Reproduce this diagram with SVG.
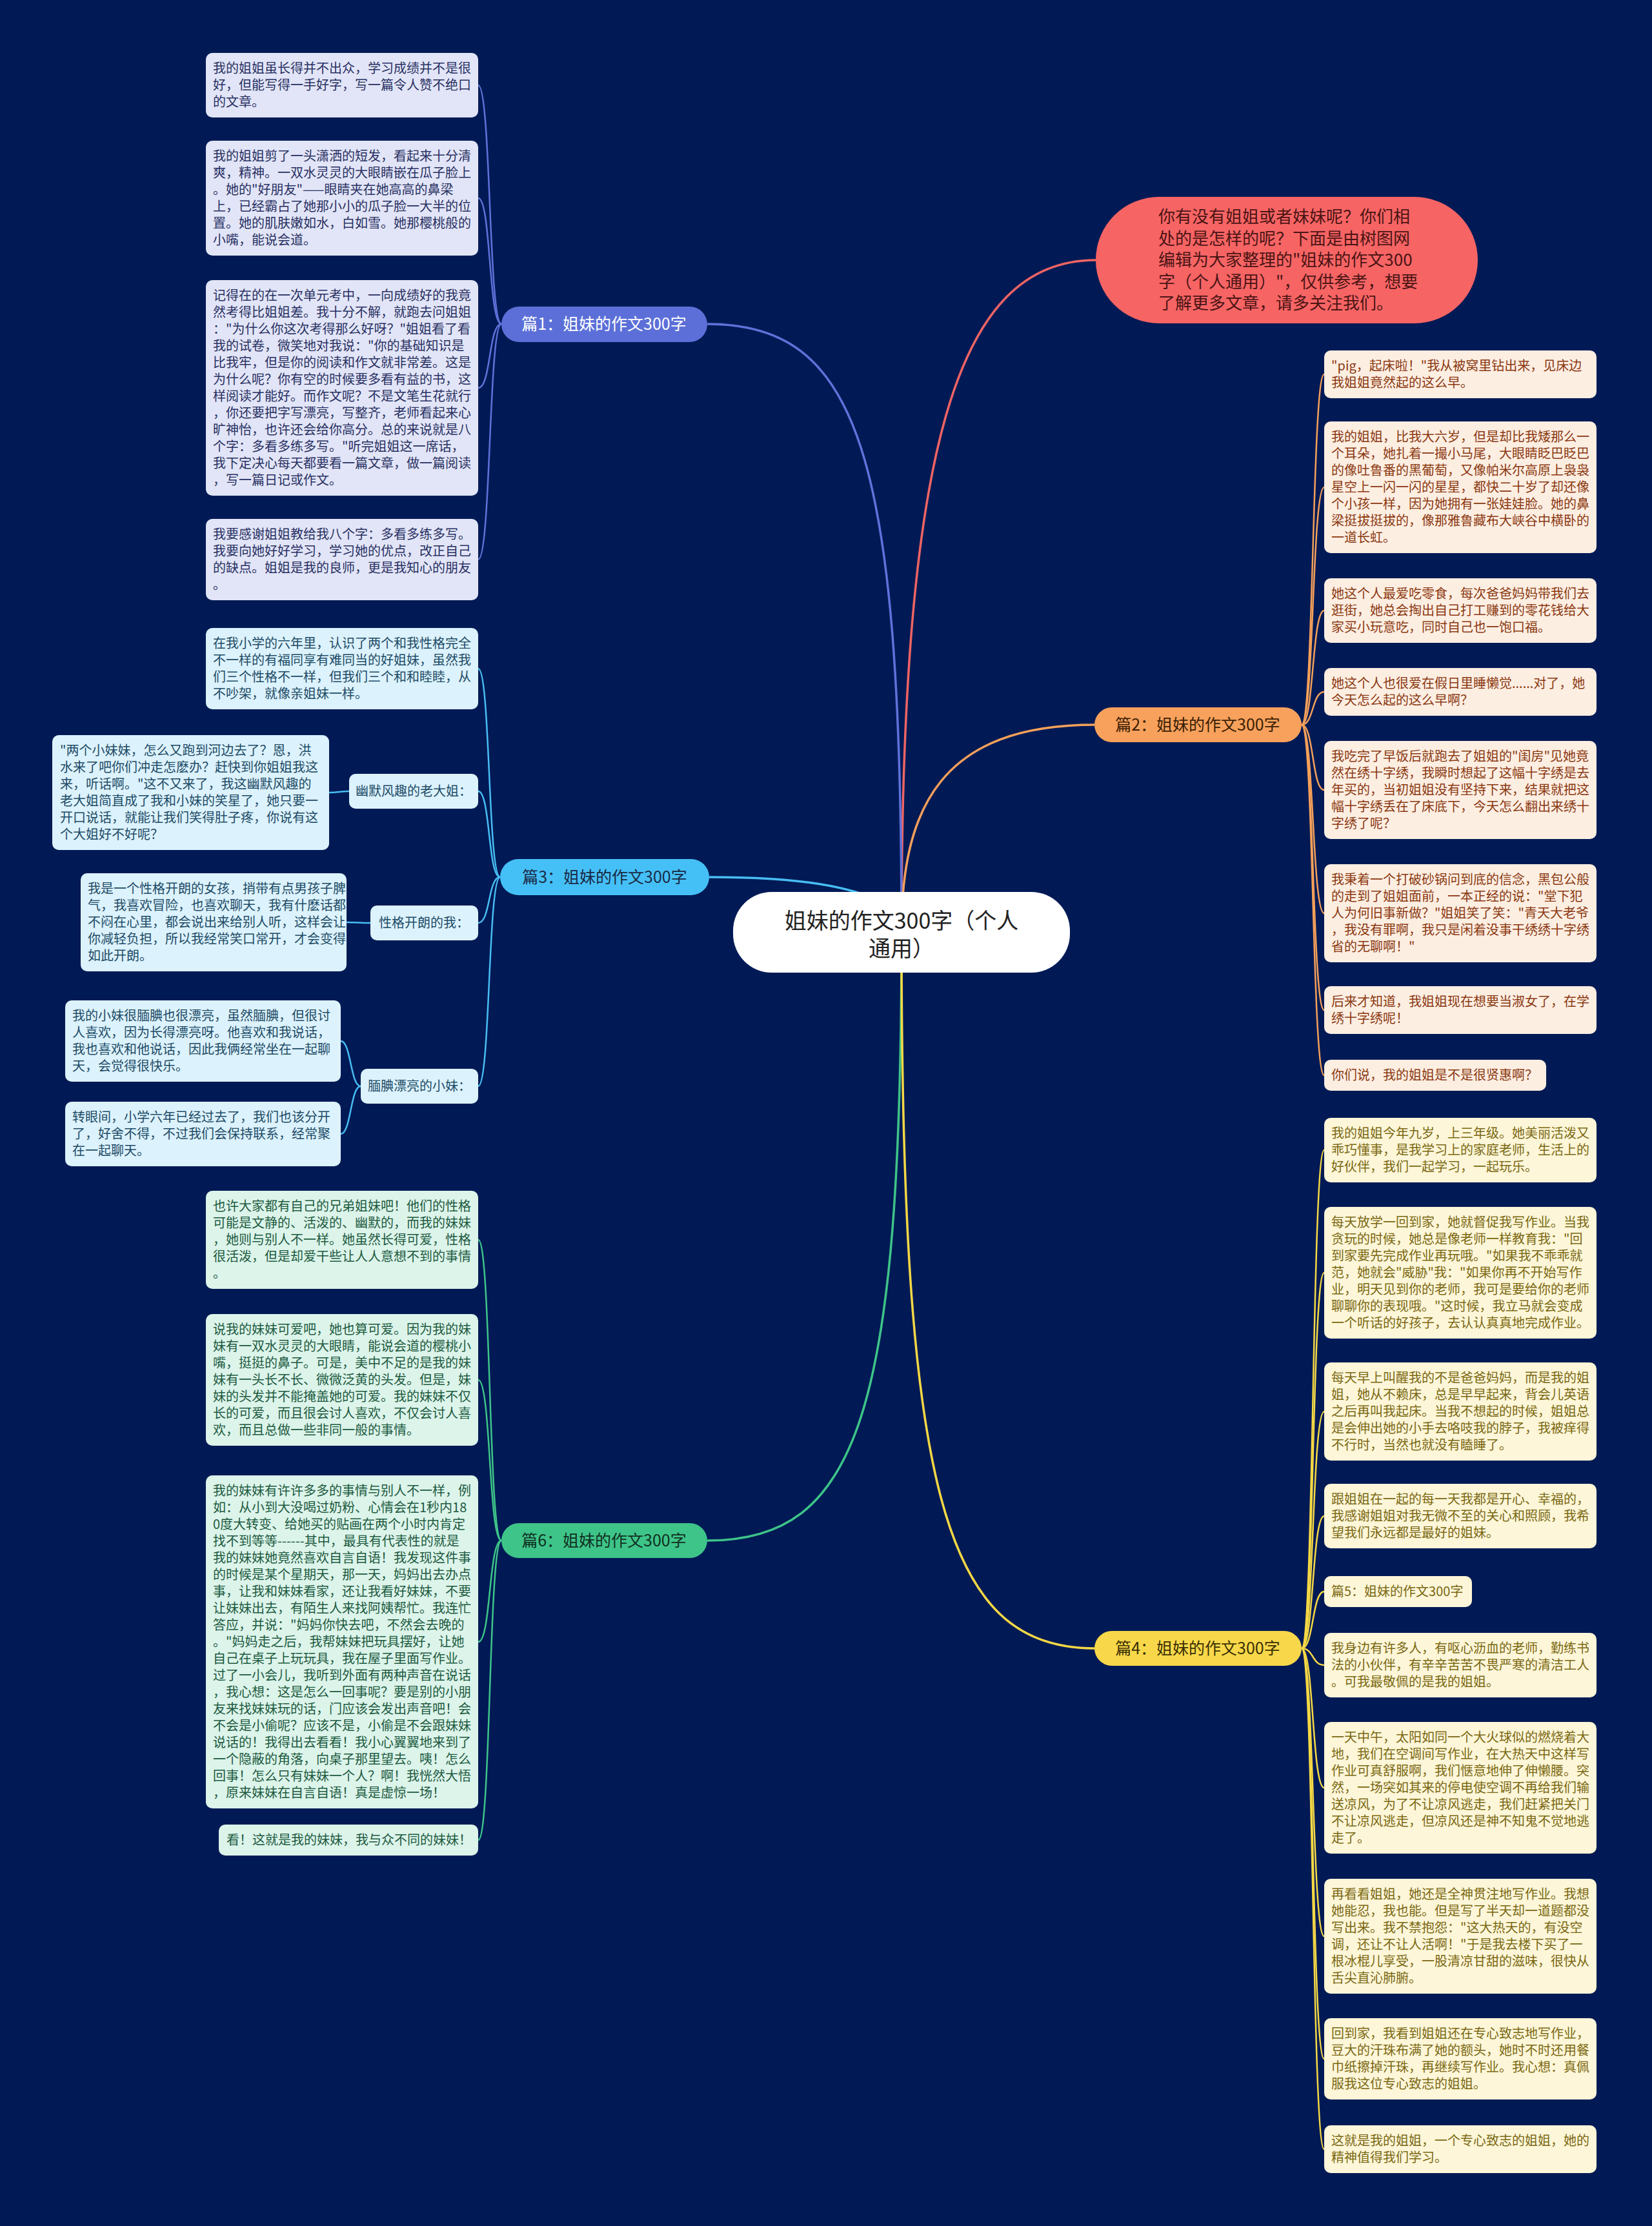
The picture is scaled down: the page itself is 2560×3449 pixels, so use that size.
<svg xmlns="http://www.w3.org/2000/svg" width="2560" height="3449" viewBox="0 0 2560 3449">
<style>
text{font-family:"Noto Sans CJK SC","Noto Sans",sans-serif}
.lf{font-size:20px}
.c1 rect{fill:#e2e5f7}.c1 text{fill:#283062}
.c3 rect{fill:#dcf2fc}.c3 text{fill:#1d4b66}
.c6 rect{fill:#dcf4ea}.c6 text{fill:#1c5a3f}
.c2 rect{fill:#fdeee2}.c2 text{fill:#8a3810}
.c4 rect{fill:#fdf6d8}.c4 text{fill:#7a6812}
.lab{font-size:25px;text-anchor:middle}
.ln{fill:none;stroke-width:3.5}
.sl{fill:none;stroke-width:2.5}
</style>
<rect width="2560" height="3449" fill="#011a55"/>

<g id="connectors">
<path class="ln" stroke="#f06464" d="M1698 403 C1480 403 1397 700 1397 1444"/>
<path class="ln" stroke="#5f72da" d="M1096 502 C1330 502 1397 700 1397 1444"/>
<path class="ln" stroke="#48bdf3" d="M1099 1359 C1300 1359 1397 1390 1397 1444"/>
<path class="ln" stroke="#3ec489" d="M1096 2387 C1330 2387 1397 2190 1397 1444"/>
<path class="ln" stroke="#f5a05a" d="M1696 1123 C1460 1123 1397 1250 1397 1444"/>
<path class="ln" stroke="#f5d845" d="M1696 2554 C1460 2554 1397 2300 1397 1444"/>
<g stroke="#5f72da">
<path class="sl" d="M777 502 C757 502 761 132 741 132"/>
<path class="sl" d="M777 502 C757 502 761 307 741 307"/>
<path class="sl" d="M777 502 C757 502 761 601 741 601"/>
<path class="sl" d="M777 502 C757 502 761 867 741 867"/>
</g>
<g stroke="#48bdf3">
<path class="sl" d="M775 1359 C756 1359 760 1036 741 1036"/>
<path class="sl" d="M775 1359 C756 1359 760 1226 741 1226"/>
<path class="sl" d="M775 1359 C756 1359 760 1430 741 1430"/>
<path class="sl" d="M775 1359 C756 1359 760 1683 741 1683"/>
<path class="sl" d="M541 1226 C526 1226 525 1228 510 1228"/>
<path class="sl" d="M574 1430 C556 1430 555 1429 537 1429"/>
<path class="sl" d="M559 1683 C543 1683 544 1613 528 1613"/>
<path class="sl" d="M559 1683 C543 1683 544 1757 528 1757"/>
</g>
<g stroke="#3ec489">
<path class="sl" d="M777 2387 C757 2387 761 1921 741 1921"/>
<path class="sl" d="M777 2387 C757 2387 761 2138 741 2138"/>
<path class="sl" d="M777 2387 C757 2387 761 2544 741 2544"/>
<path class="sl" d="M777 2387 C757 2387 761 2851 741 2851"/>
</g>
<g stroke="#f5a05a">
<path class="sl" d="M2017 1123 C2036 1123 2033 580 2052 580"/>
<path class="sl" d="M2017 1123 C2036 1123 2033 755 2052 755"/>
<path class="sl" d="M2017 1123 C2036 1123 2033 946 2052 946"/>
<path class="sl" d="M2017 1123 C2036 1123 2033 1072 2052 1072"/>
<path class="sl" d="M2017 1123 C2036 1123 2033 1224 2052 1224"/>
<path class="sl" d="M2017 1123 C2036 1123 2033 1415 2052 1415"/>
<path class="sl" d="M2017 1123 C2036 1123 2033 1565 2052 1565"/>
<path class="sl" d="M2017 1123 C2036 1123 2033 1666 2052 1666"/>
</g>
<g stroke="#f5d845">
<path class="sl" d="M2017 2554 C2036 2554 2033 1782 2052 1782"/>
<path class="sl" d="M2017 2554 C2036 2554 2033 1972 2052 1972"/>
<path class="sl" d="M2017 2554 C2036 2554 2033 2187 2052 2187"/>
<path class="sl" d="M2017 2554 C2036 2554 2033 2349 2052 2349"/>
<path class="sl" d="M2017 2554 C2036 2554 2033 2466 2052 2466"/>
<path class="sl" d="M2017 2554 C2036 2554 2033 2580 2052 2580"/>
<path class="sl" d="M2017 2554 C2036 2554 2033 2770 2052 2770"/>
<path class="sl" d="M2017 2554 C2036 2554 2033 3000 2052 3000"/>
<path class="sl" d="M2017 2554 C2036 2554 2033 3190 2052 3190"/>
<path class="sl" d="M2017 2554 C2036 2554 2033 3330 2052 3330"/>
</g>
</g>

<g id="root">
<rect x="1136" y="1382" width="522" height="125" rx="60" fill="#ffffff"/>
<text x="1397" y="1439" font-size="34" text-anchor="middle" fill="#222">姐妹的作文300字（个人</text>
<text x="1397" y="1482" font-size="34" text-anchor="middle" fill="#222">通用）</text>
</g>

<g id="intro">
<rect x="1698" y="305" width="592" height="196" rx="98" fill="#f76464"/>
<text font-size="26" fill="#4a1414"><tspan x="1795" y="345">你有没有姐姐或者妹妹呢？你们相</tspan><tspan x="1795" dy="33.5">处的是怎样的呢？下面是由树图网</tspan><tspan x="1795" dy="33.5">编辑为大家整理的"姐妹的作文300</tspan><tspan x="1795" dy="33.5">字（个人通用）"，仅供参考，想要</tspan><tspan x="1795" dy="33.5">了解更多文章，请多关注我们。</tspan></text>
</g>

<g id="b1">
<rect x="777" y="475" width="319" height="55" rx="27.5" fill="#5c6fd8"/>
<text class="lab" x="936" y="511" fill="#ffffff">篇1：姐妹的作文300字</text>
</g>
<g id="b3">
<rect x="775" y="1331" width="324" height="56" rx="28" fill="#45c0f7"/>
<text class="lab" x="937" y="1368" fill="#1a2a44">篇3：姐妹的作文300字</text>
</g>
<g id="b6">
<rect x="777" y="2360" width="319" height="54" rx="27" fill="#3ec489"/>
<text class="lab" x="936" y="2396" fill="#10301f">篇6：姐妹的作文300字</text>
</g>
<g id="b2">
<rect x="1696" y="1096" width="321" height="54" rx="27" fill="#f7a15c"/>
<text class="lab" x="1856" y="1132" fill="#3a1e05">篇2：姐妹的作文300字</text>
</g>
<g id="b4">
<rect x="1696" y="2527" width="321" height="54" rx="27" fill="#f8d84a"/>
<text class="lab" x="1856" y="2563" fill="#3a3005">篇4：姐妹的作文300字</text>
</g>

<g class="c1 lf">
<g id="n1a"><rect x="319" y="82" width="422" height="100" rx="10"/><text><tspan x="330" y="113">我的姐姐虽长得并不出众，学习成绩并不是很</tspan><tspan x="330" dy="26">好，但能写得一手好字，写一篇令人赞不绝口</tspan><tspan x="330" dy="26">的文章。</tspan></text></g>
<g id="n1b"><rect x="319" y="218" width="422" height="178" rx="10"/><text><tspan x="330" y="249">我的姐姐剪了一头潇洒的短发，看起来十分清</tspan><tspan x="330" dy="26">爽，精神。一双水灵灵的大眼睛嵌在瓜子脸上</tspan><tspan x="330" dy="26">。她的"好朋友"——眼睛夹在她高高的鼻梁</tspan><tspan x="330" dy="26">上，已经霸占了她那小小的瓜子脸一大半的位</tspan><tspan x="330" dy="26">置。她的肌肤嫩如水，白如雪。她那樱桃般的</tspan><tspan x="330" dy="26">小嘴，能说会道。</tspan></text></g>
<g id="n1c"><rect x="319" y="434" width="422" height="334" rx="10"/><text><tspan x="330" y="465">记得在的在一次单元考中，一向成绩好的我竟</tspan><tspan x="330" dy="26">然考得比姐姐差。我十分不解，就跑去问姐姐</tspan><tspan x="330" dy="26">："为什么你这次考得那么好呀？"姐姐看了看</tspan><tspan x="330" dy="26">我的试卷，微笑地对我说："你的基础知识是</tspan><tspan x="330" dy="26">比我牢，但是你的阅读和作文就非常差。这是</tspan><tspan x="330" dy="26">为什么呢？你有空的时候要多看有益的书，这</tspan><tspan x="330" dy="26">样阅读才能好。而作文呢？不是文笔生花就行</tspan><tspan x="330" dy="26">，你还要把字写漂亮，写整齐，老师看起来心</tspan><tspan x="330" dy="26">旷神怡，也许还会给你高分。总的来说就是八</tspan><tspan x="330" dy="26">个字：多看多练多写。"听完姐姐这一席话，</tspan><tspan x="330" dy="26">我下定决心每天都要看一篇文章，做一篇阅读</tspan><tspan x="330" dy="26">，写一篇日记或作文。</tspan></text></g>
<g id="n1d"><rect x="319" y="804" width="422" height="126" rx="10"/><text><tspan x="330" y="835">我要感谢姐姐教给我八个字：多看多练多写。</tspan><tspan x="330" dy="26">我要向她好好学习，学习她的优点，改正自己</tspan><tspan x="330" dy="26">的缺点。姐姐是我的良师，更是我知心的朋友</tspan><tspan x="330" dy="26">。</tspan></text></g>
</g>

<g class="c3 lf">
<g id="n3a"><rect x="319" y="973" width="422" height="126" rx="10"/><text><tspan x="330" y="1004">在我小学的六年里，认识了两个和我性格完全</tspan><tspan x="330" dy="26">不一样的有福同享有难同当的好姐妹，虽然我</tspan><tspan x="330" dy="26">们三个性格不一样，但我们三个和和睦睦，从</tspan><tspan x="330" dy="26">不吵架，就像亲姐妹一样。</tspan></text></g>
<g id="n3b"><rect x="541" y="1199" width="200" height="54" rx="10"/><text x="641" y="1233" text-anchor="middle">幽默风趣的老大姐：</text></g>
<g id="n3b1"><rect x="81" y="1139" width="429" height="178" rx="10"/><text><tspan x="93" y="1170">"两个小妹妹，怎么又跑到河边去了？恩，洪</tspan><tspan x="93" dy="26">水来了吧你们冲走怎麽办？赶快到你姐姐我这</tspan><tspan x="93" dy="26">来，听话啊。"这不又来了，我这幽默风趣的</tspan><tspan x="93" dy="26">老大姐简直成了我和小妹的笑星了，她只要一</tspan><tspan x="93" dy="26">开口说话，就能让我们笑得肚子疼，你说有这</tspan><tspan x="93" dy="26">个大姐好不好呢？</tspan></text></g>
<g id="n3c"><rect x="574" y="1403" width="167" height="54" rx="10"/><text x="657" y="1437" text-anchor="middle">性格开朗的我：</text></g>
<g id="n3c1"><rect x="125" y="1353" width="412" height="152" rx="10"/><text><tspan x="136" y="1384">我是一个性格开朗的女孩，捎带有点男孩子脾</tspan><tspan x="136" dy="26">气，我喜欢冒险，也喜欢聊天，我有什麽话都</tspan><tspan x="136" dy="26">不闷在心里，都会说出来给别人听，这样会让</tspan><tspan x="136" dy="26">你减轻负担，所以我经常笑口常开，才会变得</tspan><tspan x="136" dy="26">如此开朗。</tspan></text></g>
<g id="n3d"><rect x="559" y="1656" width="182" height="54" rx="10"/><text x="650" y="1690" text-anchor="middle">腼腆漂亮的小妹：</text></g>
<g id="n3d1"><rect x="101" y="1550" width="427" height="126" rx="10"/><text><tspan x="112" y="1581">我的小妹很腼腆也很漂亮，虽然腼腆，但很讨</tspan><tspan x="112" dy="26">人喜欢，因为长得漂亮呀。他喜欢和我说话，</tspan><tspan x="112" dy="26">我也喜欢和他说话，因此我俩经常坐在一起聊</tspan><tspan x="112" dy="26">天，会觉得很快乐。</tspan></text></g>
<g id="n3d2"><rect x="101" y="1707" width="427" height="100" rx="10"/><text><tspan x="112" y="1738">转眼间，小学六年已经过去了，我们也该分开</tspan><tspan x="112" dy="26">了，好舍不得，不过我们会保持联系，经常聚</tspan><tspan x="112" dy="26">在一起聊天。</tspan></text></g>
</g>

<g class="c6 lf">
<g id="n6a"><rect x="319" y="1845" width="422" height="152" rx="10"/><text><tspan x="330" y="1876">也许大家都有自己的兄弟姐妹吧！他们的性格</tspan><tspan x="330" dy="26">可能是文静的、活泼的、幽默的，而我的妹妹</tspan><tspan x="330" dy="26">，她则与别人不一样。她虽然长得可爱，性格</tspan><tspan x="330" dy="26">很活泼，但是却爱干些让人人意想不到的事情</tspan><tspan x="330" dy="26">。</tspan></text></g>
<g id="n6b"><rect x="319" y="2036" width="422" height="204" rx="10"/><text><tspan x="330" y="2067">说我的妹妹可爱吧，她也算可爱。因为我的妹</tspan><tspan x="330" dy="26">妹有一双水灵灵的大眼睛，能说会道的樱桃小</tspan><tspan x="330" dy="26">嘴，挺挺的鼻子。可是，美中不足的是我的妹</tspan><tspan x="330" dy="26">妹有一头长不长、微微泛黄的头发。但是，妹</tspan><tspan x="330" dy="26">妹的头发并不能掩盖她的可爱。我的妹妹不仅</tspan><tspan x="330" dy="26">长的可爱，而且很会讨人喜欢，不仅会讨人喜</tspan><tspan x="330" dy="26">欢，而且总做一些非同一般的事情。</tspan></text></g>
<g id="n6c"><rect x="319" y="2286" width="422" height="516" rx="10"/><text><tspan x="330" y="2317">我的妹妹有许许多多的事情与别人不一样，例</tspan><tspan x="330" dy="26">如：从小到大没喝过奶粉、心情会在1秒内18</tspan><tspan x="330" dy="26">0度大转变、给她买的贴画在两个小时内肯定</tspan><tspan x="330" dy="26">找不到等等------其中，最具有代表性的就是</tspan><tspan x="330" dy="26">我的妹妹她竟然喜欢自言自语！我发现这件事</tspan><tspan x="330" dy="26">的时候是某个星期天，那一天，妈妈出去办点</tspan><tspan x="330" dy="26">事，让我和妹妹看家，还让我看好妹妹，不要</tspan><tspan x="330" dy="26">让妹妹出去，有陌生人来找阿姨帮忙。我连忙</tspan><tspan x="330" dy="26">答应，并说："妈妈你快去吧，不然会去晚的</tspan><tspan x="330" dy="26">。"妈妈走之后，我帮妹妹把玩具摆好，让她</tspan><tspan x="330" dy="26">自己在桌子上玩玩具，我在屋子里面写作业。</tspan><tspan x="330" dy="26">过了一小会儿，我听到外面有两种声音在说话</tspan><tspan x="330" dy="26">，我心想：这是怎么一回事呢？要是别的小朋</tspan><tspan x="330" dy="26">友来找妹妹玩的话，门应该会发出声音吧！会</tspan><tspan x="330" dy="26">不会是小偷呢？应该不是，小偷是不会跟妹妹</tspan><tspan x="330" dy="26">说话的！我得出去看看！我小心翼翼地来到了</tspan><tspan x="330" dy="26">一个隐蔽的角落，向桌子那里望去。咦！怎么</tspan><tspan x="330" dy="26">回事！怎么只有妹妹一个人？啊！我恍然大悟</tspan><tspan x="330" dy="26">，原来妹妹在自言自语！真是虚惊一场！</tspan></text></g>
<g id="n6d"><rect x="339" y="2827" width="402" height="48" rx="10"/><text x="351" y="2858">看！这就是我的妹妹，我与众不同的妹妹！</text></g>
</g>

<g class="c2 lf">
<g id="n2a"><rect x="2052" y="543" width="422" height="74" rx="10"/><text><tspan x="2063" y="574">"pig，起床啦！"我从被窝里钻出来，见床边</tspan><tspan x="2063" dy="26">我姐姐竟然起的这么早。</tspan></text></g>
<g id="n2b"><rect x="2052" y="653" width="422" height="204" rx="10"/><text><tspan x="2063" y="684">我的姐姐，比我大六岁，但是却比我矮那么一</tspan><tspan x="2063" dy="26">个耳朵，她扎着一撮小马尾，大眼睛眨巴眨巴</tspan><tspan x="2063" dy="26">的像吐鲁番的黑葡萄，又像帕米尔高原上袅袅</tspan><tspan x="2063" dy="26">星空上一闪一闪的星星，都快二十岁了却还像</tspan><tspan x="2063" dy="26">个小孩一样，因为她拥有一张娃娃脸。她的鼻</tspan><tspan x="2063" dy="26">梁挺拔挺拔的，像那雅鲁藏布大峡谷中横卧的</tspan><tspan x="2063" dy="26">一道长虹。</tspan></text></g>
<g id="n2c"><rect x="2052" y="896" width="422" height="100" rx="10"/><text><tspan x="2063" y="927">她这个人最爱吃零食，每次爸爸妈妈带我们去</tspan><tspan x="2063" dy="26">逛街，她总会掏出自己打工赚到的零花钱给大</tspan><tspan x="2063" dy="26">家买小玩意吃，同时自己也一饱口福。</tspan></text></g>
<g id="n2d"><rect x="2052" y="1035" width="422" height="74" rx="10"/><text><tspan x="2063" y="1066">她这个人也很爱在假日里睡懒觉......对了，她</tspan><tspan x="2063" dy="26">今天怎么起的这么早啊？</tspan></text></g>
<g id="n2e"><rect x="2052" y="1148" width="422" height="152" rx="10"/><text><tspan x="2063" y="1179">我吃完了早饭后就跑去了姐姐的"闺房"见她竟</tspan><tspan x="2063" dy="26">然在绣十字绣，我瞬时想起了这幅十字绣是去</tspan><tspan x="2063" dy="26">年买的，当初姐姐没有坚持下来，结果就把这</tspan><tspan x="2063" dy="26">幅十字绣丢在了床底下，今天怎么翻出来绣十</tspan><tspan x="2063" dy="26">字绣了呢？</tspan></text></g>
<g id="n2f"><rect x="2052" y="1339" width="422" height="152" rx="10"/><text><tspan x="2063" y="1370">我秉着一个打破砂锅问到底的信念，黑包公般</tspan><tspan x="2063" dy="26">的走到了姐姐面前，一本正经的说："堂下犯</tspan><tspan x="2063" dy="26">人为何旧事新做？"姐姐笑了笑："青天大老爷</tspan><tspan x="2063" dy="26">，我没有罪啊，我只是闲着没事干绣绣十字绣</tspan><tspan x="2063" dy="26">省的无聊啊！"</tspan></text></g>
<g id="n2g"><rect x="2052" y="1528" width="422" height="74" rx="10"/><text><tspan x="2063" y="1559">后来才知道，我姐姐现在想要当淑女了，在学</tspan><tspan x="2063" dy="26">绣十字绣呢！</tspan></text></g>
<g id="n2h"><rect x="2052" y="1642" width="344" height="48" rx="10"/><text x="2063" y="1673">你们说，我的姐姐是不是很贤惠啊？</text></g>
</g>

<g class="c4 lf">
<g id="n4a"><rect x="2052" y="1732" width="422" height="100" rx="10"/><text><tspan x="2063" y="1763">我的姐姐今年九岁，上三年级。她美丽活泼又</tspan><tspan x="2063" dy="26">乖巧懂事，是我学习上的家庭老师，生活上的</tspan><tspan x="2063" dy="26">好伙伴，我们一起学习，一起玩乐。</tspan></text></g>
<g id="n4b"><rect x="2052" y="1870" width="422" height="204" rx="10"/><text><tspan x="2063" y="1901">每天放学一回到家，她就督促我写作业。当我</tspan><tspan x="2063" dy="26">贪玩的时候，她总是像老师一样教育我："回</tspan><tspan x="2063" dy="26">到家要先完成作业再玩哦。"如果我不乖乖就</tspan><tspan x="2063" dy="26">范，她就会"威胁"我："如果你再不开始写作</tspan><tspan x="2063" dy="26">业，明天见到你的老师，我可是要给你的老师</tspan><tspan x="2063" dy="26">聊聊你的表现哦。"这时候，我立马就会变成</tspan><tspan x="2063" dy="26">一个听话的好孩子，去认认真真地完成作业。</tspan></text></g>
<g id="n4c"><rect x="2052" y="2111" width="422" height="152" rx="10"/><text><tspan x="2063" y="2142">每天早上叫醒我的不是爸爸妈妈，而是我的姐</tspan><tspan x="2063" dy="26">姐，她从不赖床，总是早早起来，背会儿英语</tspan><tspan x="2063" dy="26">之后再叫我起床。当我不想起的时候，姐姐总</tspan><tspan x="2063" dy="26">是会伸出她的小手去咯吱我的脖子，我被痒得</tspan><tspan x="2063" dy="26">不行时，当然也就没有瞌睡了。</tspan></text></g>
<g id="n4d"><rect x="2052" y="2299" width="422" height="100" rx="10"/><text><tspan x="2063" y="2330">跟姐姐在一起的每一天我都是开心、幸福的，</tspan><tspan x="2063" dy="26">我感谢姐姐对我无微不至的关心和照顾，我希</tspan><tspan x="2063" dy="26">望我们永远都是最好的姐妹。</tspan></text></g>
<g id="n4e"><rect x="2052" y="2442" width="229" height="48" rx="10"/><text x="2063" y="2473">篇5：姐妹的作文300字</text></g>
<g id="n4f"><rect x="2052" y="2530" width="422" height="100" rx="10"/><text><tspan x="2063" y="2561">我身边有许多人，有呕心沥血的老师，勤练书</tspan><tspan x="2063" dy="26">法的小伙伴，有辛辛苦苦不畏严寒的清洁工人</tspan><tspan x="2063" dy="26">。可我最敬佩的是我的姐姐。</tspan></text></g>
<g id="n4g"><rect x="2052" y="2668" width="422" height="204" rx="10"/><text><tspan x="2063" y="2699">一天中午，太阳如同一个大火球似的燃烧着大</tspan><tspan x="2063" dy="26">地，我们在空调间写作业，在大热天中这样写</tspan><tspan x="2063" dy="26">作业可真舒服啊，我们惬意地伸了伸懒腰。突</tspan><tspan x="2063" dy="26">然，一场突如其来的停电使空调不再给我们输</tspan><tspan x="2063" dy="26">送凉风，为了不让凉风逃走，我们赶紧把关门</tspan><tspan x="2063" dy="26">不让凉风逃走，但凉风还是神不知鬼不觉地逃</tspan><tspan x="2063" dy="26">走了。</tspan></text></g>
<g id="n4h"><rect x="2052" y="2911" width="422" height="178" rx="10"/><text><tspan x="2063" y="2942">再看看姐姐，她还是全神贯注地写作业。我想</tspan><tspan x="2063" dy="26">她能忍，我也能。但是写了半天却一道题都没</tspan><tspan x="2063" dy="26">写出来。我不禁抱怨："这大热天的，有没空</tspan><tspan x="2063" dy="26">调，还让不让人活啊！"于是我去楼下买了一</tspan><tspan x="2063" dy="26">根冰棍儿享受，一股清凉甘甜的滋味，很快从</tspan><tspan x="2063" dy="26">舌尖直沁肺腑。</tspan></text></g>
<g id="n4i"><rect x="2052" y="3127" width="422" height="126" rx="10"/><text><tspan x="2063" y="3158">回到家，我看到姐姐还在专心致志地写作业，</tspan><tspan x="2063" dy="26">豆大的汗珠布满了她的额头，她时不时还用餐</tspan><tspan x="2063" dy="26">巾纸擦掉汗珠，再继续写作业。我心想：真佩</tspan><tspan x="2063" dy="26">服我这位专心致志的姐姐。</tspan></text></g>
<g id="n4j"><rect x="2052" y="3293" width="422" height="74" rx="10"/><text><tspan x="2063" y="3324">这就是我的姐姐，一个专心致志的姐姐，她的</tspan><tspan x="2063" dy="26">精神值得我们学习。</tspan></text></g>
</g>
</svg>
